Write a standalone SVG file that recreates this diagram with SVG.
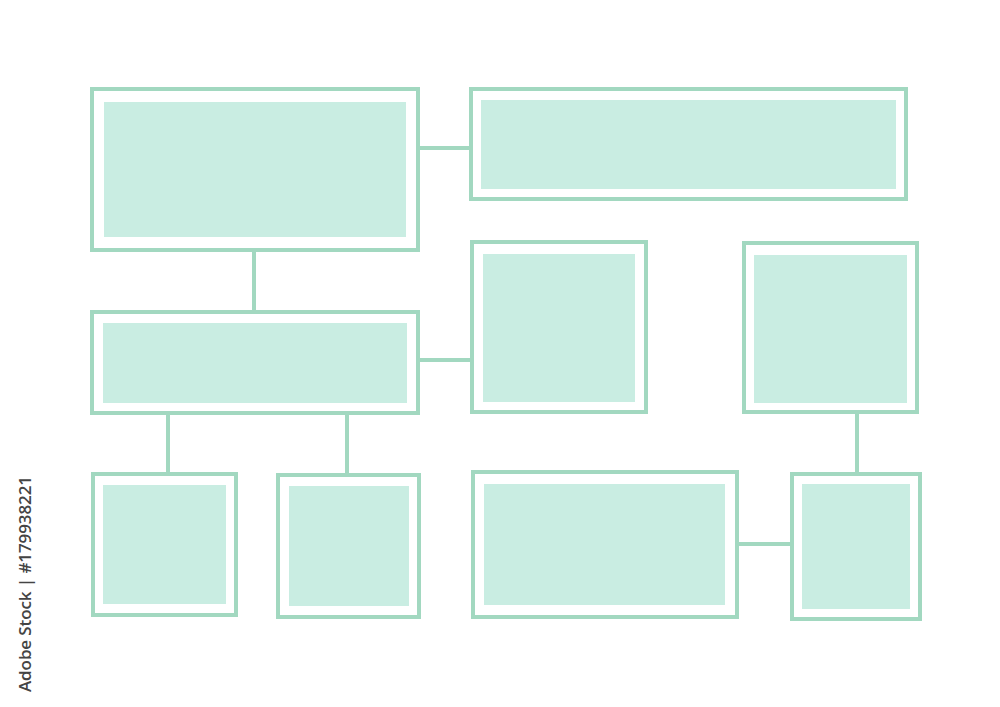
<svg xmlns="http://www.w3.org/2000/svg" width="1000" height="707" viewBox="0 0 1000 707">
<style>
.frame{fill:#ffffff;stroke:#a2d8c0;stroke-width:4}
.inner{fill:#c9ede2}
.conn{stroke:#a2d8c0;stroke-width:4;fill:none}
.wm{font-family:"Open Sans","Liberation Sans",sans-serif;font-size:17px;font-weight:600;fill:#444444}
</style>
<rect width="1000" height="707" fill="#ffffff"/>
<g id="connectors">
<line class="conn" x1="418" y1="148" x2="471" y2="148"/>
<line class="conn" x1="254" y1="250" x2="254" y2="312"/>
<line class="conn" x1="418" y1="360" x2="472" y2="360"/>
<line class="conn" x1="168" y1="413" x2="168" y2="474"/>
<line class="conn" x1="347" y1="413" x2="347" y2="475"/>
<line class="conn" x1="857" y1="412" x2="857" y2="474"/>
<line class="conn" x1="737" y1="544" x2="792" y2="544"/>
</g>
<g id="node1"><rect class="frame" x="92" y="89" width="326" height="161"/><rect class="inner" x="104" y="102" width="302" height="135"/></g>
<g id="node2"><rect class="frame" x="471" y="89" width="435" height="110"/><rect class="inner" x="481" y="100" width="415" height="89"/></g>
<g id="node3"><rect class="frame" x="92" y="312" width="326" height="101"/><rect class="inner" x="103" y="323" width="304" height="80"/></g>
<g id="node4"><rect class="frame" x="472" y="242" width="174" height="170"/><rect class="inner" x="483" y="254" width="152" height="148"/></g>
<g id="node5"><rect class="frame" x="744" y="243" width="173" height="169"/><rect class="inner" x="754" y="255" width="153" height="148"/></g>
<g id="node6"><rect class="frame" x="93" y="474" width="143" height="141"/><rect class="inner" x="103" y="485" width="123" height="119"/></g>
<g id="node7"><rect class="frame" x="278" y="475" width="141" height="142"/><rect class="inner" x="289" y="486" width="120" height="120"/></g>
<g id="node8"><rect class="frame" x="473" y="472" width="264" height="145"/><rect class="inner" x="484" y="484" width="241" height="121"/></g>
<g id="node9"><rect class="frame" x="792" y="474" width="128" height="145"/><rect class="inner" x="802" y="484" width="108" height="125"/></g>
<text class="wm" transform="translate(31,692) rotate(-90)" textLength="216" lengthAdjust="spacing">Adobe Stock | #179938221</text>
</svg>
